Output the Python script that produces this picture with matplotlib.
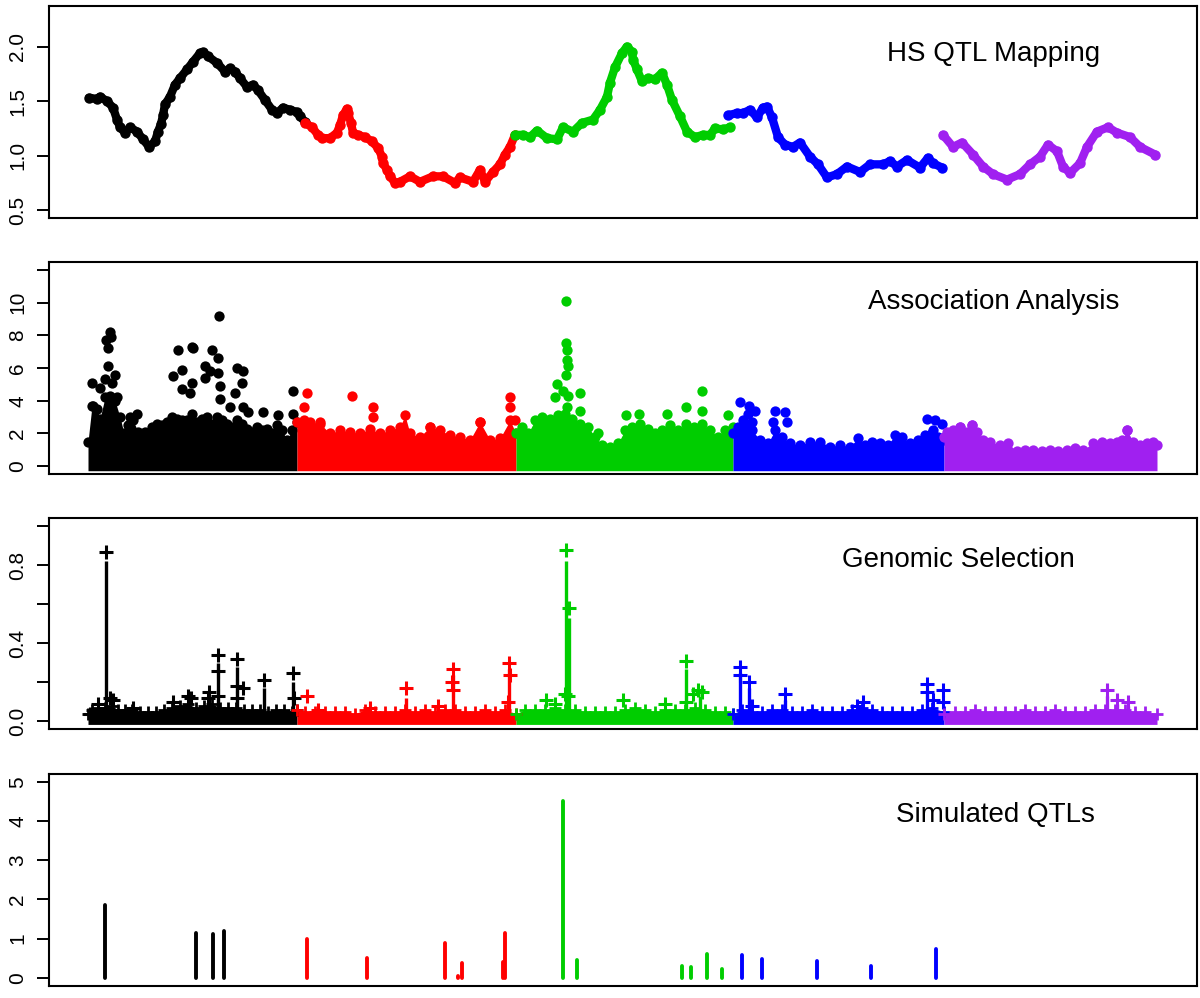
# Four stacked genome-wide panels: QTL mapping, association, genomic selection, simulated QTLs
import numpy as np
import matplotlib
matplotlib.use('Agg')
import matplotlib.pyplot as plt

plt.rcParams['font.family'] = ['Liberation Sans', 'DejaVu Sans']

# chromosome colours (R: black, red, green3, blue, purple)
chr_cols = ['#000000', '#FF0000', '#00CD00', '#0000FF', '#A020F0']

# --- panel 1: HS QTL mapping curve, one list per chromosome (x = genome position) ---
hs_x = [
    [89, 97, 100, 107, 113, 117, 120, 125, 130, 137, 143, 149, 155, 158, 161, 163, 165, 170, 175, 180,
     187, 193, 200, 203, 208, 217, 225, 230, 235, 240, 247, 253, 258, 265, 272, 277, 283, 290, 297, 300, 305],
    [305, 312, 318, 322, 330, 337, 340, 343, 347, 348, 351, 353, 358, 365, 372, 378, 382, 383, 387, 390,
     395, 400, 410, 420, 433, 443, 455, 460, 473, 480, 485, 493, 500, 505, 510, 515],
    [515, 523, 530, 537, 547, 557, 563, 573, 582, 593, 600, 607, 610, 615, 622, 627, 632, 633, 637, 642,
     648, 655, 662, 667, 672, 680, 687, 695, 703, 710, 715, 723, 730],
    [728, 737, 743, 750, 757, 763, 767, 772, 778, 785, 793, 800, 810, 818, 827, 837, 847, 860, 870, 883,
     890, 897, 907, 920, 928, 933, 942],
    [943, 953, 962, 973, 983, 993, 1007, 1020, 1030, 1040, 1048, 1057, 1063, 1070, 1080, 1087, 1097,
     1108, 1117, 1130, 1140, 1155],
]
hs_y = [
    [1.53, 1.52, 1.54, 1.50, 1.44, 1.33, 1.26, 1.21, 1.26, 1.22, 1.15, 1.08, 1.13, 1.22, 1.29, 1.37, 1.47,
     1.54, 1.65, 1.71, 1.79, 1.86, 1.94, 1.95, 1.91, 1.85, 1.77, 1.80, 1.77, 1.71, 1.63, 1.65, 1.60, 1.51,
     1.42, 1.39, 1.44, 1.42, 1.40, 1.36, 1.31],
    [1.30, 1.26, 1.19, 1.16, 1.16, 1.21, 1.28, 1.37, 1.43, 1.39, 1.30, 1.21, 1.19, 1.17, 1.13, 1.07, 0.99,
     0.93, 0.87, 0.81, 0.75, 0.76, 0.81, 0.76, 0.81, 0.81, 0.75, 0.80, 0.76, 0.87, 0.76, 0.85, 0.92, 1.01,
     1.08, 1.19],
    [1.19, 1.19, 1.17, 1.23, 1.16, 1.15, 1.26, 1.22, 1.30, 1.33, 1.42, 1.54, 1.67, 1.81, 1.94, 2.00, 1.95,
     1.88, 1.79, 1.68, 1.71, 1.70, 1.76, 1.65, 1.51, 1.36, 1.22, 1.17, 1.19, 1.19, 1.25, 1.24, 1.26],
    [1.37, 1.39, 1.39, 1.42, 1.35, 1.44, 1.45, 1.35, 1.17, 1.10, 1.08, 1.12, 0.99, 0.92, 0.80, 0.83, 0.90,
     0.85, 0.92, 0.92, 0.95, 0.90, 0.96, 0.89, 0.98, 0.93, 0.89],
    [1.19, 1.08, 1.12, 1.01, 0.90, 0.83, 0.78, 0.83, 0.92, 0.99, 1.10, 1.04, 0.90, 0.84, 0.93, 1.08, 1.22,
     1.26, 1.21, 1.17, 1.08, 1.01],
]

# --- panel 2: association -log10(p); dense band (upper edge) + scattered high points ---
assoc_band_x = [
    [88, 92, 97, 100, 105, 110, 115, 120, 124, 128, 133, 138, 143, 148, 152, 157, 162, 167, 172, 177, 182,
     187, 192, 197, 202, 207, 212, 217, 222, 227, 232, 237, 242, 247, 252, 257, 262, 267, 272, 277, 282,
     287, 292, 297],
    [297, 304, 310, 320, 330, 340, 350, 360, 370, 380, 390, 400, 405, 410, 420, 430, 440, 450, 460, 470,
     480, 490, 500, 510, 516],
    [516, 522, 528, 535, 542, 550, 558, 565, 572, 580, 588, 595, 602, 610, 618, 625, 632, 640, 648, 655,
     662, 670, 678, 686, 694, 702, 710, 718, 725, 733],
    [733, 738, 745, 752, 760, 768, 775, 782, 790, 800, 810, 820, 830, 840, 850, 858, 865, 872, 880, 888,
     895, 902, 910, 918, 925, 932, 938, 944],
    [944, 947, 953, 960, 967, 972, 977, 983, 990, 1000, 1008, 1017, 1025, 1033, 1042, 1050, 1058, 1067,
     1075, 1083, 1093, 1102, 1110, 1117, 1122, 1127, 1133, 1140, 1147, 1153, 1157],
]
assoc_band_y = [
    [1.5, 3.7, 3.5, 2.9, 4.2, 4.3, 4.0, 3.0, 2.0, 2.5, 2.8, 2.1, 1.8, 1.9, 2.4, 2.6, 2.5, 2.7, 3.0, 2.9,
     2.8, 2.8, 3.2, 2.7, 2.9, 3.0, 2.6, 3.0, 2.8, 2.6, 2.4, 2.8, 2.6, 2.3, 2.1, 2.4, 2.2, 2.3, 2.0, 2.5,
     2.2, 1.6, 2.2, 2.7],
    [2.7, 2.8, 2.7, 2.6, 2.0, 2.2, 2.1, 2.0, 2.3, 2.0, 2.2, 2.4, 3.1, 2.0, 1.8, 2.4, 2.2, 1.9, 1.8, 1.6,
     2.7, 1.6, 1.7, 2.8, 2.0],
    [2.0, 2.4, 2.0, 2.8, 3.0, 2.9, 3.1, 3.2, 2.9, 2.6, 2.4, 1.8, 1.3, 1.2, 1.4, 2.2, 2.4, 2.6, 2.3, 2.0,
     2.2, 2.5, 2.2, 2.6, 2.4, 2.6, 2.2, 1.8, 2.2, 2.4],
    [2.0, 2.4, 2.6, 2.2, 1.6, 1.4, 2.2, 1.8, 1.4, 1.3, 1.5, 1.5, 1.2, 1.3, 1.2, 1.7, 1.3, 1.5, 1.4, 1.3,
     1.9, 1.8, 1.4, 1.6, 1.9, 2.0, 1.8, 1.6],
    [1.8, 2.1, 2.2, 2.4, 2.1, 2.5, 2.1, 1.6, 1.5, 1.3, 1.4, 0.9, 1.0, 1.0, 0.9, 1.0, 0.9, 1.0, 1.1, 1.0,
     1.4, 1.5, 1.4, 1.5, 1.6, 2.2, 1.5, 1.3, 1.4, 1.5, 1.3],
]
assoc_pk_x = [
    [92, 93, 100, 105, 106, 108, 110, 111, 108, 112, 115, 117, 137, 130, 145, 173, 178, 182, 182, 192, 193,
     192, 190, 205, 212, 210, 205, 218, 219, 218, 220, 220, 230, 237, 243, 242, 235, 243, 248, 263, 278,
     293, 293],
    [307, 304, 352, 373, 373, 320, 510, 510, 515, 480, 430],
    [566, 566, 567, 567, 568, 566, 557, 555, 563, 568, 580, 580, 567, 702, 702, 686, 667, 639, 626, 728,
     598],
    [740, 749, 755, 748, 743, 752, 775, 785, 773, 787, 927, 935, 942, 933],
    [972, 960, 1127],
]
assoc_pk_y = [
    [5.1, 3.7, 4.8, 5.3, 7.7, 7.2, 8.2, 7.9, 6.1, 5.1, 5.6, 4.2, 3.2, 3.0, 2.1, 5.5, 7.1, 5.9, 4.7, 7.3,
     7.2, 5.1, 4.5, 6.1, 7.1, 5.8, 5.4, 6.6, 9.2, 5.7, 4.9, 4.1, 3.6, 6.0, 5.8, 5.1, 4.5, 3.6, 3.3, 3.3,
     3.1, 4.6, 3.2],
    [4.5, 3.6, 4.3, 3.6, 3.0, 2.7, 4.2, 3.6, 2.8, 2.7, 2.4],
    [10.1, 7.5, 7.1, 6.5, 6.1, 5.6, 5.0, 4.2, 4.6, 4.3, 4.5, 3.4, 3.6, 4.6, 3.4, 3.6, 3.2, 3.2, 3.1, 3.1,
     2.0],
    [3.9, 3.7, 3.4, 3.2, 2.8, 2.7, 3.4, 3.3, 2.7, 2.7, 2.9, 2.8, 2.6, 2.2],
    [2.5, 2.4, 2.2],
]

# --- panel 3: genomic selection marker effects; dense band + spikes ---
gs_band_x = [
    [88, 92, 98, 105, 112, 118, 125, 132, 140, 148, 156, 164, 172, 180, 188, 196, 204, 212, 220, 228, 236,
     244, 252, 260, 268, 276, 284, 292, 297],
    [297, 305, 315, 325, 335, 345, 355, 365, 375, 385, 395, 405, 415, 425, 435, 445, 455, 465, 475, 485,
     495, 505, 516],
    [516, 525, 535, 545, 555, 565, 575, 585, 595, 605, 615, 625, 635, 645, 655, 665, 675, 685, 695, 705,
     715, 725, 733],
    [733, 742, 752, 762, 772, 782, 792, 802, 812, 822, 832, 842, 852, 862, 872, 882, 892, 902, 912, 922,
     932, 944],
    [944, 955, 965, 975, 985, 995, 1005, 1015, 1025, 1035, 1045, 1055, 1065, 1075, 1085, 1095, 1105, 1115,
     1125, 1135, 1145, 1157],
]
gs_band_y = [
    [0.04, 0.06, 0.07, 0.07, 0.08, 0.06, 0.06, 0.06, 0.05, 0.05, 0.05, 0.06, 0.07, 0.08, 0.09, 0.07, 0.08,
     0.09, 0.07, 0.07, 0.07, 0.06, 0.06, 0.06, 0.05, 0.06, 0.06, 0.05, 0.06],
    [0.06, 0.05, 0.05, 0.05, 0.05, 0.05, 0.04, 0.06, 0.05, 0.05, 0.05, 0.06, 0.05, 0.06, 0.05, 0.06, 0.06,
     0.05, 0.05, 0.06, 0.05, 0.06, 0.04],
    [0.04, 0.06, 0.06, 0.06, 0.07, 0.06, 0.06, 0.05, 0.05, 0.05, 0.05, 0.06, 0.07, 0.06, 0.05, 0.06, 0.06,
     0.06, 0.07, 0.06, 0.05, 0.05, 0.04],
    [0.04, 0.06, 0.05, 0.05, 0.06, 0.06, 0.05, 0.05, 0.06, 0.05, 0.05, 0.05, 0.06, 0.07, 0.06, 0.05, 0.05,
     0.05, 0.05, 0.06, 0.07, 0.05],
    [0.04, 0.05, 0.05, 0.06, 0.05, 0.05, 0.05, 0.05, 0.06, 0.05, 0.05, 0.06, 0.05, 0.05, 0.05, 0.06, 0.06,
     0.06, 0.06, 0.05, 0.05, 0.04],
]
gs_line_x = [[106, 218, 237, 264, 293, 209], [453, 509, 406], [566, 569, 686, 700],
             [740, 749, 927, 785], [1107, 1117, 1128]]
gs_line_y = [[0.82, 0.30, 0.28, 0.17, 0.20, 0.12], [0.24, 0.27, 0.12], [0.82, 0.53, 0.27, 0.13],
             [0.25, 0.17, 0.16, 0.11], [0.13, 0.09, 0.08]]
gs_pk_x = [
    [106, 218, 218, 218, 237, 237, 243, 237, 209, 208, 264, 293, 294, 173, 188, 191, 98, 110, 113, 133, 90],
    [307, 406, 453, 452, 453, 509, 510, 508, 370, 318, 438],
    [566, 569, 565, 568, 546, 555, 686, 686, 698, 702, 693, 665, 623],
    [740, 740, 749, 785, 752, 927, 927, 943, 933, 943, 863, 857],
    [1107, 1117, 1128],
]
gs_pk_y = [
    [0.87, 0.34, 0.26, 0.13, 0.32, 0.18, 0.17, 0.12, 0.15, 0.12, 0.21, 0.25, 0.12, 0.10, 0.13, 0.12, 0.09,
     0.12, 0.11, 0.07, 0.04],
    [0.13, 0.17, 0.27, 0.20, 0.16, 0.30, 0.24, 0.10, 0.07, 0.06, 0.08],
    [0.88, 0.58, 0.14, 0.13, 0.11, 0.09, 0.31, 0.10, 0.16, 0.15, 0.14, 0.09, 0.11],
    [0.28, 0.24, 0.20, 0.14, 0.08, 0.19, 0.15, 0.16, 0.11, 0.10, 0.10, 0.08],
    [0.16, 0.11, 0.10],
]

# --- panel 4: simulated QTL effects ---
qtl_x = [[105, 196, 213, 224], [307, 367, 445, 458, 462, 503, 505], [563, 577, 682, 691, 707, 722],
         [742, 762, 817, 871, 936], []]
qtl_y = [[1.85, 1.15, 1.11, 1.20], [0.99, 0.50, 0.89, 0.05, 0.37, 0.41, 1.15], [4.52, 0.45, 0.31, 0.28, 0.61, 0.23],
         [0.59, 0.48, 0.43, 0.30, 0.73], []]

titles = ['HS QTL Mapping', 'Association Analysis', 'Genomic Selection', 'Simulated QTLs']

# --- layout: panels placed like the R par(mfrow) output ---
W, H = 1200, 998
fig = plt.figure(figsize=(W / 100, H / 100), dpi=100)
left, right = 48.7, 1196.7
boxes = [(6, 218), (262, 474), (518.3, 729.3), (774, 985.7)]
axes = []
for top, bot in boxes:
    ax = fig.add_axes([left / W, 1 - bot / H, (right - left) / W, (bot - top) / H])
    ax.set_xlim(left, right)
    ax.set_xticks([])
    for s in ax.spines.values():
        s.set_linewidth(1.5)
    ax.tick_params(axis='y', length=8.5, width=1.4, pad=7, labelsize=15)
    axes.append(ax)

# panel 1
ax = axes[0]
for c, xs, ys in zip(chr_cols, hs_x, hs_y):
    ax.plot(xs, ys, color=c, lw=6, marker='o', ms=6.5, mec=c,
            solid_capstyle='round', solid_joinstyle='round')
ax.set_ylim(0.428, 2.372)
ax.set_yticks([0.5, 1.0, 1.5, 2.0])
ax.set_yticklabels(['0.5', '1.0', '1.5', '2.0'], rotation=90, va='center')

# panel 2
ax = axes[1]
for c, bx, by, px, py in zip(chr_cols, assoc_band_x, assoc_band_y, assoc_pk_x, assoc_pk_y):
    ax.fill_between(bx, -0.28, by, color=c, lw=0)
    ax.scatter(bx, by, s=55, color=c, lw=0)
    ax.scatter(px, py, s=55, color=c, lw=0)
ax.set_ylim(-0.48, 12.48)
ax.set_yticks([0, 2, 4, 6, 8, 10, 12])
ax.set_yticklabels(['0', '2', '4', '6', '8', '10', ''], rotation=90, va='center')

# panel 3
ax = axes[2]
for c, bx, by, lx, ly, px, py in zip(chr_cols, gs_band_x, gs_band_y, gs_line_x, gs_line_y, gs_pk_x, gs_pk_y):
    ax.fill_between(bx, -0.015, by, color=c, lw=0)
    ax.plot(bx, by, ls='none', marker='+', ms=8, mew=2, color=c)
    ax.vlines(lx, 0, ly, color=c, lw=2.4)
    ax.plot(px, py, ls='none', marker='+', ms=10.5, mew=2.2, color=c)
ax.set_ylim(-0.04, 1.04)
ax.set_yticks([0, 0.2, 0.4, 0.6, 0.8, 1.0])
ax.set_yticklabels(['0.0', '', '0.4', '', '0.8', ''], rotation=90, va='center')

# panel 4
ax = axes[3]
for c, xs, ys in zip(chr_cols, qtl_x, qtl_y):
    if xs:
        ax.vlines(xs, 0, ys, color=c, lw=2.8, capstyle='round')
ax.set_ylim(-0.2, 5.2)
ax.set_yticks([0, 1, 2, 3, 4, 5])
ax.set_yticklabels(['0', '1', '2', '3', '4', '5'], rotation=90, va='center')

# panel titles (pixel centres)
title_pos = [(994, 54), (994, 302), (958, 560), (995, 815)]
for t, (tx, ty) in zip(titles, title_pos):
    fig.text(tx / W, 1 - ty / H, t, fontsize=20, ha='center', va='center')

fig.savefig('out.png', dpi=100)
